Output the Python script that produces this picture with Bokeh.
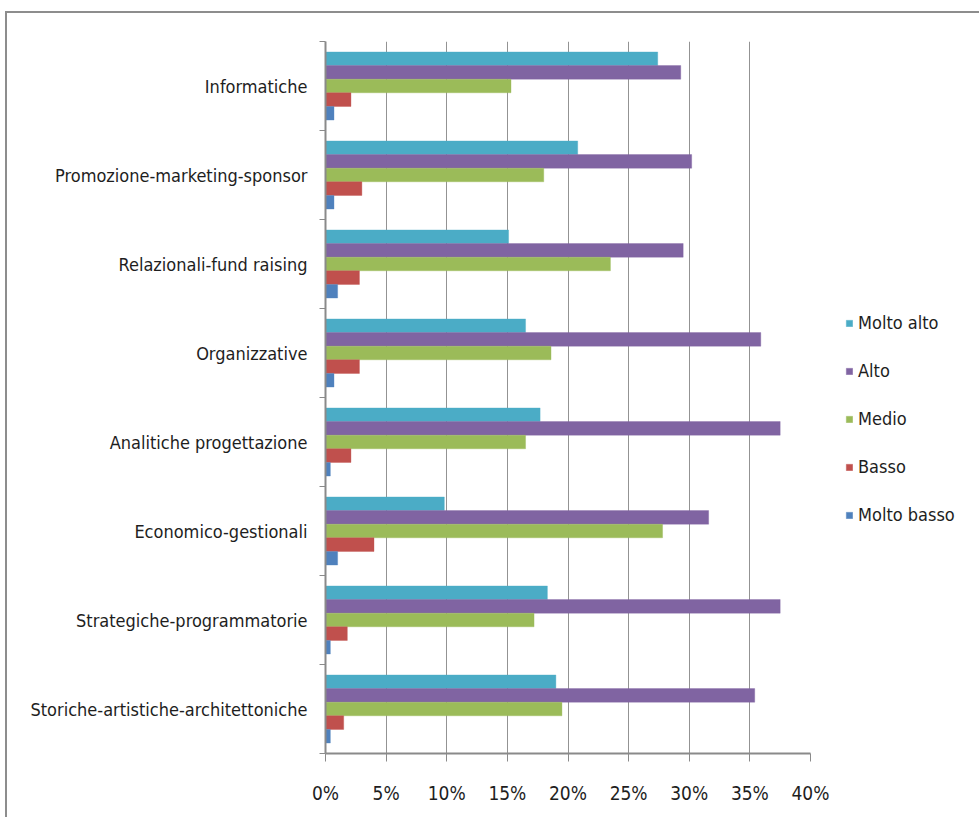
from bokeh.plotting import figure
from bokeh.layouts import row
from bokeh.models import ColumnDataSource, Range1d, FixedTicker, Legend, LegendItem
from bokeh.embed import file_html
from bokeh.resources import INLINE

# Competence areas, listed top to bottom
categories = [
    "Informatiche",
    "Promozione-marketing-sponsor",
    "Relazionali-fund raising",
    "Organizzative",
    "Analitiche progettazione",
    "Economico-gestionali",
    "Strategiche-programmatorie",
    "Storiche-artistiche-architettoniche",
]

# Share of respondents per level (%)
molto_alto = [27.4, 20.8, 15.1, 16.5, 17.7, 9.8, 18.3, 19.0]
alto = [29.3, 30.2, 29.5, 35.9, 37.5, 31.6, 37.5, 35.4]
medio = [15.3, 18.0, 23.5, 18.6, 16.5, 27.8, 17.2, 19.5]
basso = [2.1, 3.0, 2.8, 2.8, 2.1, 4.0, 1.8, 1.5]
molto_basso = [0.7, 0.7, 1.0, 0.7, 0.4, 1.0, 0.4, 0.4]

series_names = ["Molto alto", "Alto", "Medio", "Basso", "Molto basso"]
series_values = [molto_alto, alto, medio, basso, molto_basso]
series_colors = ["#4BACC6", "#8064A2", "#9BBB59", "#C0504D", "#4F81BD"]

x_ticks = [0, 5, 10, 15, 20, 25, 30, 35, 40]

FONT = "'DejaVu Sans Condensed', 'Liberation Sans Narrow', Roboto"
TEXT_COLOR = "#1e1e1e"
AXIS_COLOR = "#8a8a8a"

n = len(categories)
bar_h = 0.153

p = figure(
    frame_width=485, frame_height=712,
    x_range=Range1d(0, 40), y_range=Range1d(n, 0),
    output_backend="svg", toolbar_location=None,
    min_border_left=318, min_border_right=25,
    min_border_top=28, min_border_bottom=64,
    outline_line_color=None,
)

for j, (vals, col) in enumerate(zip(series_values, series_colors)):
    src = ColumnDataSource(dict(
        y=[i + 0.5 + (j - 2) * bar_h for i in range(n)],
        right=vals,
    ))
    p.hbar(y="y", left=0, right="right", height=bar_h, source=src,
           fill_color=col, line_color=col, line_alpha=0.35, line_width=1)

# x axis: percentages with vertical gridlines
p.xaxis.ticker = FixedTicker(ticks=x_ticks)
p.xaxis.major_label_overrides = {t: f"{t}%" for t in x_ticks}
p.xaxis.major_tick_out = 8
p.xaxis.major_tick_in = 0
p.xaxis.minor_tick_line_color = None
p.xaxis.major_label_standoff = 20
p.xaxis.axis_line_color = AXIS_COLOR
p.xaxis.axis_line_width = 2
p.xaxis.major_tick_line_color = AXIS_COLOR
p.xaxis.major_label_text_font = FONT
p.xaxis.major_label_text_font_size = "19px"
p.xaxis.major_label_text_color = TEXT_COLOR

p.xgrid.ticker = FixedTicker(ticks=x_ticks)
p.xgrid.grid_line_color = "#939393"
p.xgrid.grid_line_width = 1
p.ygrid.grid_line_color = None

# y axis: labels at category centres, tick marks on the boundaries
p.yaxis.ticker = FixedTicker(ticks=[i + 0.5 for i in range(n)],
                             minor_ticks=list(range(n + 1)))
p.yaxis.major_label_overrides = {i + 0.5: c for i, c in enumerate(categories)}
p.yaxis.major_tick_line_color = None
p.yaxis.major_tick_out = 0
p.yaxis.major_tick_in = 0
p.yaxis.minor_tick_out = 6
p.yaxis.minor_tick_in = 0
p.yaxis.minor_tick_line_color = AXIS_COLOR
p.yaxis.axis_line_color = AXIS_COLOR
p.yaxis.axis_line_width = 2
p.yaxis.major_label_standoff = 12
p.yaxis.major_label_text_font = FONT
p.yaxis.major_label_text_font_size = "18px"
p.yaxis.major_label_text_color = TEXT_COLOR

# Legend panel to the right of the chart; its swatch renderers sit outside
# the panel's visible range so only the legend entries show
lf = figure(
    width=144, height=804,
    x_range=Range1d(0, 1), y_range=Range1d(0, 1),
    output_backend="svg", toolbar_location=None,
    min_border=0, outline_line_color=None,
)
lf.axis.visible = False
lf.grid.visible = False

items = []
for name, col in zip(series_names, series_colors):
    r = lf.hbar(y=[5], left=[5], right=[5], height=1, fill_color=col,
                line_color=col, line_alpha=0.35)
    items.append(LegendItem(label=name, renderers=[r]))

legend = Legend(
    items=items, location=(10, 228),
    glyph_width=8, glyph_height=8, label_standoff=5,
    spacing=27, padding=0, margin=0,
    border_line_color=None, background_fill_alpha=0,
    label_text_font=FONT, label_text_font_size="18px",
    label_text_color=TEXT_COLOR, label_height=20,
)
lf.add_layout(legend, "center")

layout = row(p, lf, spacing=0)
layout.styles = {
    "margin-left": "5px", "margin-top": "11px",
    "border-top": "2px solid #8d8d8d", "border-left": "2px solid #8d8d8d",
}

open("out.html", "w").write(file_html(layout, INLINE))
